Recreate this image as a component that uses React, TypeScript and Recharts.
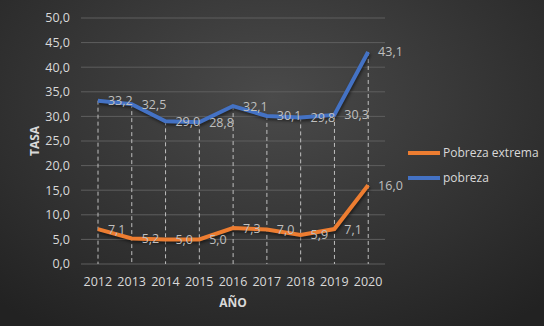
import { ComposedChart, Line, Bar, XAxis, YAxis, CartesianGrid, LabelList, Label } from 'recharts';

const YEARS = ['2012', '2013', '2014', '2015', '2016', '2017', '2018', '2019', '2020'];
const POBREZA = [33.2, 32.5, 29.0, 28.8, 32.1, 30.1, 29.8, 30.3, 43.1];
const EXTREMA = [7.1, 5.2, 5.0, 5.0, 7.3, 7.0, 5.9, 7.1, 16.0];
const Y_TICKS = [0, 5, 10, 15, 20, 25, 30, 35, 40, 45, 50];
const SERIES = [
  { key: 'extrema', name: 'Pobreza extrema', color: '#ED7D31' },
  { key: 'pobreza', name: 'pobreza', color: '#4472C4' },
];

const TEXT = '#d9d9d9';
const FONT = '"Open Sans", "Noto Sans", sans-serif';

const data = YEARS.map((y, i) => ({ year: y, pobreza: POBREZA[i], extrema: EXTREMA[i] }));

const fmt = (v: number) => v.toFixed(1).replace('.', ',');

// Excel style drop line: dashed from the top series point down to 0
const DropLine = (p: any) => {
  const cx = p.x + p.width / 2;
  return (
    <line x1={cx} x2={cx} y1={p.y} y2={p.y + p.height}
      stroke="#bfbfbf" strokeWidth={1} strokeDasharray="4 3" />
  );
};

const RightLabel = (p: any) => (
  <text x={p.x + 10} y={p.y} dominantBaseline="central" fill="#bfbfbf"
    style={{ fontSize: 12.5, fontFamily: FONT }}>
    {fmt(p.value)}
  </text>
);

export default function App() {
  return (
    <div style={{
      position: 'absolute', left: 0, top: 0, width: 544, height: 326,
      background: 'radial-gradient(ellipse 75% 85% at 50% 30%, #4a4a4a 0%, #383838 45%, #222222 100%)',
    }}>
      <ComposedChart width={544} height={326} data={data}
        margin={{ top: 18, right: 159, bottom: 40, left: 21 }}>
        <CartesianGrid vertical={false} stroke="#5e5e5e" strokeWidth={1} />
        <XAxis dataKey="year" axisLine={false} tickLine={false} tickMargin={7}
          tick={{ fill: TEXT, fontSize: 12.5, fontFamily: FONT }} interval={0} height={22}>
          <Label value="AÑO" position="insideBottom" offset={-21}
            style={{ fill: TEXT, fontSize: 12, fontWeight: 700, fontFamily: FONT }} />
        </XAxis>
        <YAxis domain={[0, 50]} ticks={Y_TICKS} width={60} axisLine={false} tickLine={false}
          tickMargin={5} tickFormatter={fmt}
          tick={{ fill: TEXT, fontSize: 12.5, fontFamily: FONT }}>
          <Label value="TASA" angle={-90} position="insideLeft" offset={14}
            style={{ fill: TEXT, fontSize: 12, fontWeight: 700, fontFamily: FONT, textAnchor: 'middle' }} />
        </YAxis>
        <Bar dataKey="pobreza" shape={DropLine} barSize={10} isAnimationActive={false} legendType="none" />
        {SERIES.map((s) => (
          <Line key={s.key} dataKey={s.key} name={s.name} stroke={s.color} strokeWidth={4}
            dot={false} isAnimationActive={false}
            style={{ filter: 'drop-shadow(1px 2px 1.5px rgba(0,0,0,0.5))' }}>
            <LabelList dataKey={s.key} content={RightLabel} />
          </Line>
        ))}
      </ComposedChart>
      <div style={{ position: 'absolute', left: 408, top: 140, fontFamily: FONT, fontSize: 12, color: TEXT }}>
        {SERIES.map((s) => (
          <div key={s.key} style={{ display: 'flex', alignItems: 'center', height: 25 }}>
            <span style={{ display: 'inline-block', width: 32, height: 4, background: s.color, marginRight: 3 }} />
            {s.name}
          </div>
        ))}
      </div>
    </div>
  );
}
